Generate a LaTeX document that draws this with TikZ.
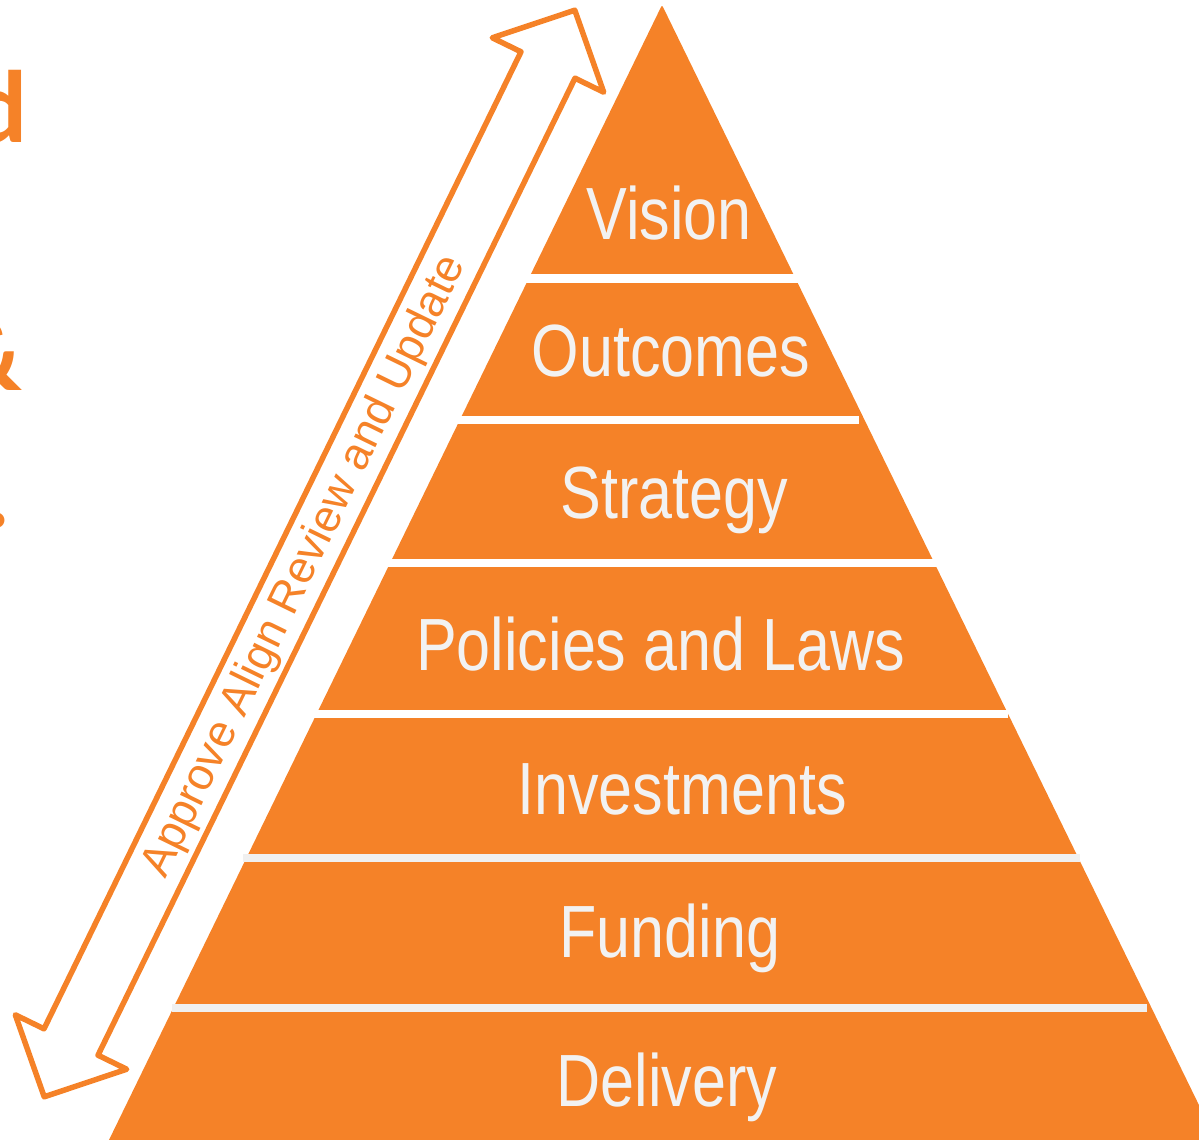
\documentclass[tikz,border=0pt]{standalone}
\usepackage{fontspec}
\setmainfont{Liberation Sans}
\newfontfamily\titlefont{Carlito}
\usepackage{graphicx}
\definecolor{pyr}{RGB}{245,130,40}
\definecolor{lbl}{RGB}{242,242,242}
\definecolor{gapgrey}{RGB}{240,240,240}
\newcommand{\narrow}[1]{\scalebox{0.825}[1]{#1}}
\tikzset{
  gapbar/.style={fill=white},
  gapbarg/.style={fill=gapgrey},
  lvl/.style={anchor=base, inner sep=0pt, text=lbl, font=\fontsize{74}{80}\selectfont},
  arrowline/.style={draw=pyr, line width=5.5pt, line join=round},
  arrowtext/.style={anchor=base, inner sep=0pt, text=pyr, font=\fontsize{45}{48}\selectfont},
  titlepart/.style={anchor=base east, inner sep=0pt, text=pyr, font=\titlefont\bfseries\fontsize{103}{110}\selectfont}
}
\begin{document}
\begin{tikzpicture}[x=1pt,y=-1pt]
\useasboundingbox (0,0) rectangle (1199,1140);
% cropped title letters at the left edge
\node[titlepart] (t1) at (28,142) {d};
\node[titlepart] (t2) at (22,390) {\&};
\node[titlepart] (t3) at (11,527) {.};
% pyramid
\fill[pyr, rounded corners=2pt] (662,5) -- (108,1142) -- (1217,1142) -- cycle;
\fill[gapbar] (515,273.5) rectangle (810,282.5);
\fill[gapbar] (455,415.5) rectangle (859,423.5);
\fill[gapbar] (380,558.5) rectangle (945,567);
\fill[gapbar] (313,710) rectangle (1008,718);
\fill[gapbarg] (243,853.5) rectangle (1080,861.5);
\fill[gapbarg] (172,1004) rectangle (1147,1012);
% level labels
\node[lvl] (vision) at (669,239) {\narrow{Vision}};
\node[lvl] (outcomes) at (671,376) {\narrow{Outcomes}};
\node[lvl] (strategy) at (674,518) {\narrow{Strategy}};
\node[lvl] (policies) at (660.5,670) {\narrow{Policies and Laws}};
\node[lvl] (invest) at (682,814) {\narrow{Investments}};
\node[lvl] (funding) at (670,957) {\narrow{Funding}};
\node[lvl] (delivery) at (667,1106) {\narrow{Delivery}};
% double arrow outline
\draw[arrowline] (574.8,10.2) -- (603.7,92.2) -- (575,78.2) -- (98,1055.2) -- (126.7,1069.2)
  -- (44.2,1096.8) -- (15.3,1014.8) -- (44,1028.8) -- (521,51.8) -- (492.3,37.8) -- cycle;
\node[arrowtext, rotate=63.97] (cycle) at (315.5,572) {Approve Align Review and Update};
\end{tikzpicture}
\end{document}
